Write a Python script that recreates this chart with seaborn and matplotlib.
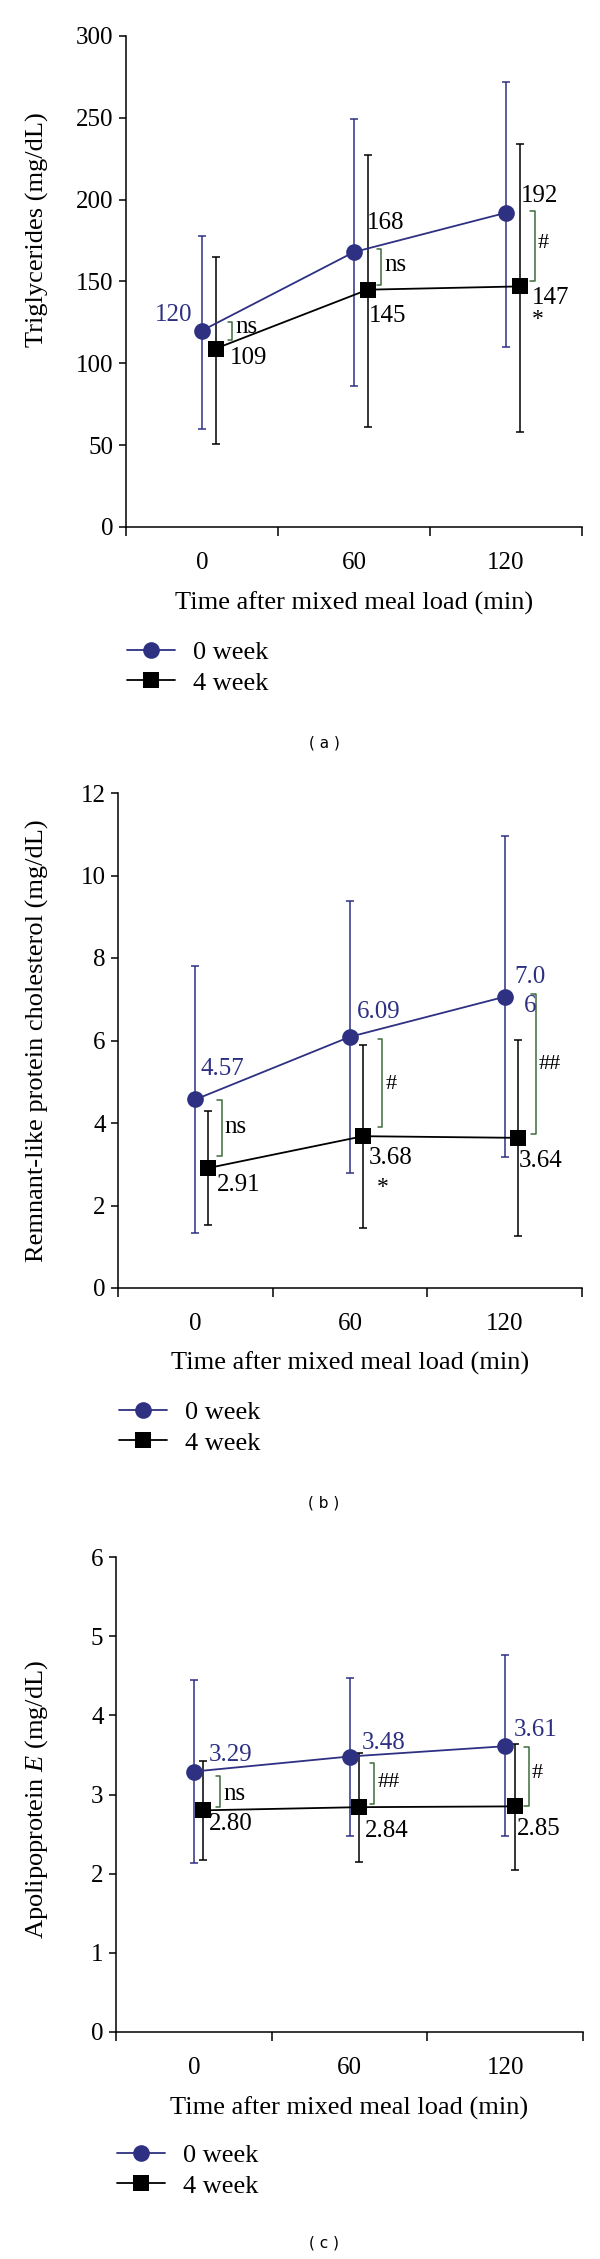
import numpy as np
import pandas as pd
import seaborn as sns
import matplotlib.pyplot as plt
from matplotlib.ticker import FixedLocator

times = ['0', '60', '120']
weeks = ['0 week', '4 week']

# (a) triglycerides (mg/dL): mean, bottom and top of error bar
tg_0wk = [120, 168, 192]
tg_0wk_low = [60, 86, 110]
tg_0wk_high = [178, 249, 272]
tg_4wk = [109, 145, 147]
tg_4wk_low = [51, 61, 58]
tg_4wk_high = [165, 227, 234]

# (b) remnant-like protein cholesterol (mg/dL)
rlp_0wk = [4.57, 6.09, 7.06]
rlp_0wk_low = [1.33, 2.79, 3.17]
rlp_0wk_high = [7.81, 9.39, 10.95]
rlp_4wk = [2.91, 3.68, 3.64]
rlp_4wk_low = [1.53, 1.46, 1.26]
rlp_4wk_high = [4.29, 5.90, 6.02]

# (c) apolipoprotein E (mg/dL)
apoe_0wk = [3.29, 3.48, 3.61]
apoe_0wk_low = [2.13, 2.48, 2.47]
apoe_0wk_high = [4.45, 4.47, 4.76]
apoe_4wk = [2.80, 2.84, 2.85]
apoe_4wk_low = [2.17, 2.15, 2.05]
apoe_4wk_high = [3.42, 3.53, 3.64]

NAVY = '#2e3082'
GREEN = '#3d6b3d'

sns.set_theme(style='ticks', rc={'axes.edgecolor': 'black', 'xtick.color': 'black',
                                 'ytick.color': 'black', 'text.color': 'black',
                                 'axes.labelcolor': 'black'})
plt.rcParams['font.family'] = ['Liberation Serif', 'DejaVu Serif']
plt.rcParams['mathtext.fontset'] = 'custom'
plt.rcParams['mathtext.it'] = 'Liberation Serif:italic'
plt.rcParams['mathtext.rm'] = 'Liberation Serif'

W, H = 600, 2259
fig = plt.figure(figsize=(6, 22.59), dpi=100)


def box(left, right, top, bottom):
    return [left / W, 1 - bottom / H, (right - left) / W, (bottom - top) / H]


def panel(ax, wk0, wk0_lo, wk0_hi, wk4, wk4_lo, wk4_hi, shift, ymax, ystep, fs):
    x = np.arange(len(times))
    df = pd.DataFrame({
        'x': np.concatenate([x, x + shift]),
        'value': wk0 + wk4,
        'week': [weeks[0]] * 3 + [weeks[1]] * 3,
    })
    sns.lineplot(data=df, x='x', y='value', hue='week', style='week',
                 palette={weeks[0]: NAVY, weeks[1]: 'black'},
                 markers={weeks[0]: 'o', weeks[1]: 's'}, dashes=False,
                 markersize=12, markeredgewidth=0, linewidth=1.3,
                 legend=False, ax=ax, zorder=3)
    ax.lines[1].set_markersize(11)
    for vals, lo, hi, xs, col in [(wk0, wk0_lo, wk0_hi, x, NAVY),
                                  (wk4, wk4_lo, wk4_hi, x + shift, 'black')]:
        v = np.array(vals)
        yerr = [v - np.array(lo), np.array(hi) - v]
        ax.errorbar(xs, v, yerr=yerr, fmt='none', ecolor=col, elinewidth=1.1,
                    capsize=3, capthick=1.1, zorder=2)
    ax.set_xlim(-0.5, 2.5)
    ax.set_ylim(0, ymax)
    ax.set_yticks(np.arange(0, ymax + ystep / 2, ystep))
    ax.set_xticks(x, times)
    ax.xaxis.set_minor_locator(FixedLocator([-0.5, 0.5, 1.5, 2.5]))
    ax.tick_params(axis='x', which='major', length=0, pad=18, labelsize=fs)
    ax.tick_params(axis='x', which='minor', length=6.5, width=1.1, direction='out')
    ax.tick_params(axis='y', length=5, width=1.1, pad=4, labelsize=fs)
    sns.despine(ax=ax)
    for s in ['left', 'bottom']:
        ax.spines[s].set_linewidth(1.1)
    ax.set_facecolor('none')
    ax.set_xlabel('Time after mixed meal load (min)', fontsize=19)
    ax.xaxis.label.set_va('center')


def value(ax, text, xy, off, col='black', ha='left', **kw):
    ax.annotate(text, xy, xytext=off, textcoords='offset points', ha=ha,
                va='center', color=col, fontsize=18, **kw)


def bracket(ax, xc, y0, y1, label, ty, fs=16):
    ax.plot([xc - 0.03, xc, xc, xc - 0.03], [y0, y0, y1, y1], color=GREEN, lw=1.1, zorder=2)
    ax.annotate(label, (xc, ty), xytext=(2, 0), textcoords='offset points',
                ha='left', va='center', fontsize=fs)


def star(ax, xy, off):
    ax.annotate('*', xy, xytext=off, textcoords='offset points',
                ha='center', va='center', fontsize=17)


def legend(ax, lx, ly):
    ax.legend(ax.lines[:2], weeks, loc='upper left', bbox_to_anchor=(lx / W, 1 - ly / H),
              bbox_transform=fig.transFigure, frameon=False, fontsize=19,
              handlelength=1.8, handletextpad=0.7, labelspacing=0.25,
              borderpad=0, borderaxespad=0)


def labels(ax, ylab, yfrac, xlab_px, l, r, t, b):
    ax.set_ylabel(ylab, fontsize=19)
    ax.yaxis.set_label_coords((37 - l) / (r - l), yfrac)
    ax.yaxis.label.set_va('center')
    ax.xaxis.set_label_coords(0.5, (b - xlab_px) / (b - t))


# ---- (a)
l, r, t, b = 126, 582, 36, 527
ax1 = fig.add_axes(box(l, r, t, b))
panel(ax1, tg_0wk, tg_0wk_low, tg_0wk_high, tg_4wk, tg_4wk_low, tg_4wk_high,
      0.09, 300, 50, 18)
legend(ax1, 127, 641)
labels(ax1, 'Triglycerides (mg/dL)', 0.605, 603, l, r, t, b)
value(ax1, '120', (0, tg_0wk[0]), (-7, 11), NAVY, ha='right')
value(ax1, '109', (0.09, tg_4wk[0]), (10, -7))
value(ax1, '168', (1, tg_0wk[1]), (9, 21))
value(ax1, '145', (1.09, tg_4wk[1]), (1, -19))
value(ax1, '192', (2, tg_0wk[2]), (11, 12))
value(ax1, '147', (2.09, tg_4wk[2]), (9, -8))
star(ax1, (2.09, tg_4wk[2]), (13, -24))
bracket(ax1, 0.2, 114, 125, 'ns', 122, fs=18)
bracket(ax1, 1.18, 148, 170, 'ns', 160, fs=18)
bracket(ax1, 2.19, 150, 193, '#', 173)

# ---- (b)
l, r, t, b = 118, 582, 793, 1288
ax2 = fig.add_axes(box(l, r, t, b))
panel(ax2, rlp_0wk, rlp_0wk_low, rlp_0wk_high, rlp_4wk, rlp_4wk_low, rlp_4wk_high,
      0.085, 12, 2, 18)
legend(ax2, 119, 1401)
labels(ax2, 'Remnant-like protein cholesterol (mg/dL)', 0.50, 1363, l, r, t, b)
value(ax2, '4.57', (0, rlp_0wk[0]), (4, 22), NAVY)
value(ax2, '2.91', (0.085, rlp_4wk[0]), (6, -12))
value(ax2, '6.09', (1, rlp_0wk[1]), (5, 18), NAVY)
value(ax2, '3.68', (1.085, rlp_4wk[1]), (4, -16))
value(ax2, '7.0\n6', (2, rlp_0wk[2]), (7, 4), NAVY, multialignment='center', linespacing=1.4)
value(ax2, '3.64', (2.085, rlp_4wk[2]), (1, -17))
star(ax2, (1.085, rlp_4wk[1]), (14, -37))
bracket(ax2, 0.17, 3.19, 4.55, 'ns', 3.9, fs=18)
bracket(ax2, 1.21, 3.9, 6.03, '#', 4.94)
bracket(ax2, 2.2, 3.73, 7.12, '##', 5.42)

# ---- (c)
l, r, t, b = 116, 583, 1557, 2032
ax3 = fig.add_axes(box(l, r, t, b))
panel(ax3, apoe_0wk, apoe_0wk_low, apoe_0wk_high, apoe_4wk, apoe_4wk_low, apoe_4wk_high,
      0.06, 6, 1, 18)
legend(ax3, 117, 2144)
labels(ax3, 'Apolipoprotein $E$ (mg/dL)', 0.49, 2108, l, r, t, b)
value(ax3, '3.29', (0, apoe_0wk[0]), (11, 12), NAVY)
value(ax3, '2.80', (0.06, apoe_4wk[0]), (4, -10))
value(ax3, '3.48', (1, apoe_0wk[1]), (9, 10), NAVY)
value(ax3, '2.84', (1.06, apoe_4wk[1]), (4, -17))
value(ax3, '3.61', (2, apoe_0wk[2]), (6, 12), NAVY)
value(ax3, '2.85', (2.06, apoe_4wk[2]), (2, -16))
bracket(ax3, 0.17, 2.84, 3.24, 'ns', 3.0, fs=18)
bracket(ax3, 1.16, 2.88, 3.40, '##', 3.15)
bracket(ax3, 2.15, 2.85, 3.60, '#', 3.27)

for y, lab in [(743, '( a )'), (1503, '( b )'), (2243, '( c )')]:
    fig.text(324 / W, 1 - y / H, lab, ha='center', va='center',
             family='DejaVu Sans', fontsize=11)

fig.savefig('out.png', dpi=100)
